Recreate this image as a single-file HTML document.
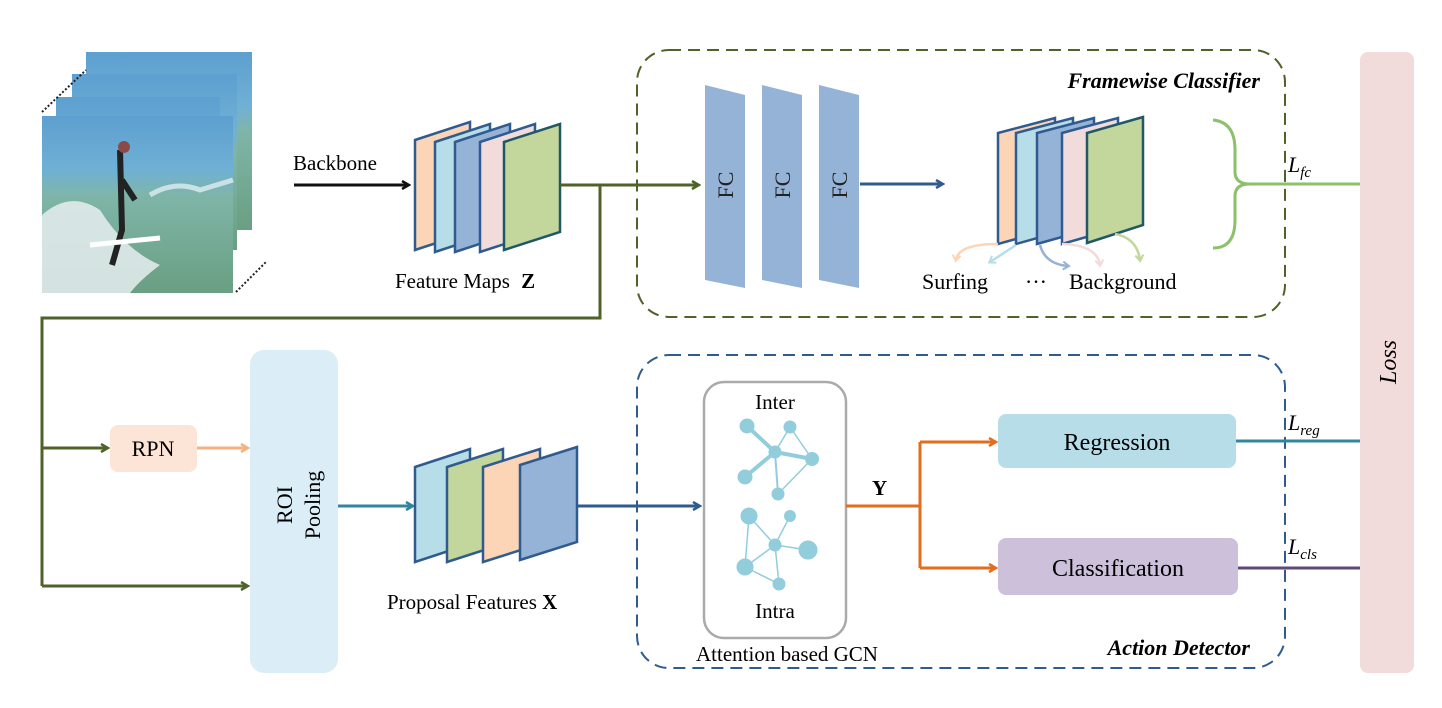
<!DOCTYPE html>
<html><head><meta charset="utf-8"><style>
html,body{margin:0;padding:0;background:#fff;}
svg{display:block;font-family:"Liberation Serif",serif;}
</style></head><body>
<svg width="1442" height="708" viewBox="0 0 1442 708" xmlns="http://www.w3.org/2000/svg">
<defs>
<marker id="ak" markerWidth="10" markerHeight="10" refX="8" refY="5" orient="auto" markerUnits="userSpaceOnUse"><path d="M1,1 L8,5 L1,9" fill="none" stroke="#111" stroke-width="2.5"/></marker>
<marker id="ag" markerWidth="10" markerHeight="10" refX="8" refY="5" orient="auto" markerUnits="userSpaceOnUse"><path d="M1,1 L8,5 L1,9" fill="none" stroke="#4f6228" stroke-width="2.5"/></marker>
<marker id="ab" markerWidth="10" markerHeight="10" refX="8" refY="5" orient="auto" markerUnits="userSpaceOnUse"><path d="M1,1 L8,5 L1,9" fill="none" stroke="#2f5b8f" stroke-width="2.5"/></marker>
<marker id="at" markerWidth="10" markerHeight="10" refX="8" refY="5" orient="auto" markerUnits="userSpaceOnUse"><path d="M1,1 L8,5 L1,9" fill="none" stroke="#31859c" stroke-width="2.5"/></marker>
<marker id="ao" markerWidth="10" markerHeight="10" refX="8" refY="5" orient="auto" markerUnits="userSpaceOnUse"><path d="M1,1 L8,5 L1,9" fill="none" stroke="#e46c1e" stroke-width="2.5"/></marker>
<marker id="ap" markerWidth="10" markerHeight="10" refX="8" refY="5" orient="auto" markerUnits="userSpaceOnUse"><path d="M1,1 L8,5 L1,9" fill="none" stroke="#f4b183" stroke-width="2.5"/></marker>
<marker id="s1" markerWidth="10" markerHeight="10" refX="6" refY="5" orient="auto" markerUnits="userSpaceOnUse"><path d="M1,1 L7,5 L1,9" fill="none" stroke="#fbd5b5" stroke-width="2"/></marker>
<marker id="s2" markerWidth="10" markerHeight="10" refX="6" refY="5" orient="auto" markerUnits="userSpaceOnUse"><path d="M1,1 L7,5 L1,9" fill="none" stroke="#b7dde8" stroke-width="2"/></marker>
<marker id="s3" markerWidth="10" markerHeight="10" refX="6" refY="5" orient="auto" markerUnits="userSpaceOnUse"><path d="M1,1 L7,5 L1,9" fill="none" stroke="#95b3d7" stroke-width="2"/></marker>
<marker id="s4" markerWidth="10" markerHeight="10" refX="6" refY="5" orient="auto" markerUnits="userSpaceOnUse"><path d="M1,1 L7,5 L1,9" fill="none" stroke="#f2dcdb" stroke-width="2"/></marker>
<marker id="s5" markerWidth="10" markerHeight="10" refX="6" refY="5" orient="auto" markerUnits="userSpaceOnUse"><path d="M1,1 L7,5 L1,9" fill="none" stroke="#c3d69b" stroke-width="2"/></marker>
<linearGradient id="sea" x1="0" y1="0" x2="0" y2="1">
<stop offset="0" stop-color="#5d9fcf"/><stop offset="0.3" stop-color="#6fb0d6"/><stop offset="0.45" stop-color="#7fb5a8"/><stop offset="1" stop-color="#6a9f82"/></linearGradient>
</defs>

<!-- video frames -->
<rect x="86" y="52" width="166" height="178" fill="url(#sea)"/>
<rect x="72" y="74" width="165" height="176" fill="url(#sea)"/>
<rect x="56" y="97" width="164" height="176" fill="url(#sea)"/>
<rect x="42" y="116" width="191" height="177" fill="url(#sea)"/>
<path d="M42,215 Q70,190 100,210 Q125,250 160,265 Q140,280 130,293 L42,293 Z" fill="#e6eef0" opacity="0.85"/>
<path d="M150,195 Q175,180 200,190 L233,180" stroke="#dfeef0" stroke-width="5" fill="none" opacity="0.8"/>
<path d="M120,150 L122,230 L112,265 M122,180 L135,200" stroke="#222" stroke-width="6" fill="none"/>
<circle cx="124" cy="147" r="6" fill="#8a4a4a"/>
<path d="M90,245 L160,238" stroke="#fff" stroke-width="5"/>
<g stroke="#222" stroke-width="2" stroke-dasharray="2,2">
<path d="M42,112 L86,70"/><path d="M236,292 L266,262"/>
</g>

<!-- backbone -->
<text x="293" y="170" font-size="21">Backbone</text>
<line x1="294" y1="185" x2="409" y2="185" stroke="#111" stroke-width="3" marker-end="url(#ak)"/>

<!-- feature maps Z -->
<g stroke="#2f5b8f" stroke-width="2.5">
<polygon points="415,140 470,122 470,232 415,250" fill="#fbd5b5"/>
<polygon points="435,142 490,124 490,234 435,252" fill="#b7dde8"/>
<polygon points="455,142 510,124 510,234 455,252" fill="#95b3d7"/>
<polygon points="480,142 535,124 535,234 480,252" fill="#f2dcdb"/>
<polygon points="504,142 560,124 560,232 504,250" fill="#c3d69b" stroke="#215868"/>
</g>
<text x="395" y="288" font-size="21">Feature Maps <tspan font-weight="bold" dx="6">Z</tspan></text>

<!-- green connectors -->
<g stroke="#4f6228" stroke-width="3" fill="none">
<line x1="560" y1="185" x2="699" y2="185" marker-end="url(#ag)"/>
<polyline points="600,185 600,318 42,318 42,586"/>
<line x1="42" y1="448" x2="108" y2="448" marker-end="url(#ag)"/>
<line x1="42" y1="586" x2="248" y2="586" marker-end="url(#ag)"/>
</g>

<!-- framewise classifier box -->
<rect x="637" y="50" width="648" height="267" rx="32" fill="none" stroke="#4f6228" stroke-width="2" stroke-dasharray="12,7"/>
<text x="1260" y="88" font-size="22" font-weight="bold" font-style="italic" text-anchor="end">Framewise Classifier</text>

<g fill="#95b3d7">
<polygon points="705,85 745,95 745,288 705,280"/>
<polygon points="762,85 802,95 802,288 762,280"/>
<polygon points="819,85 859,95 859,288 819,280"/>
</g>
<g font-size="22" fill="#222">
<text transform="translate(733,185) rotate(-90)" text-anchor="middle">FC</text>
<text transform="translate(790,185) rotate(-90)" text-anchor="middle">FC</text>
<text transform="translate(847,185) rotate(-90)" text-anchor="middle">FC</text>
</g>
<line x1="860" y1="184" x2="943" y2="184" stroke="#2f5b8f" stroke-width="3" marker-end="url(#ab)"/>

<g stroke="#2f5b8f" stroke-width="2.5">
<polygon points="998,133 1055,118 1055,228 998,244" fill="#fbd5b5"/>
<polygon points="1016,133 1073,118 1073,228 1016,244" fill="#b7dde8"/>
<polygon points="1037,133 1094,118 1094,228 1037,244" fill="#95b3d7"/>
<polygon points="1062,133 1118,118 1118,228 1062,244" fill="#f2dcdb"/>
<polygon points="1087,133 1143,117 1143,225 1087,243" fill="#c3d69b" stroke="#215868"/>
</g>
<g fill="none" stroke-width="2.5">
<path d="M998,244 Q958,244 956,260" stroke="#fbd5b5" marker-end="url(#s1)"/>
<path d="M1016,245 L990,262" stroke="#b7dde8" marker-end="url(#s2)"/>
<path d="M1040,245 Q1045,264 1068,266" stroke="#95b3d7" marker-end="url(#s3)"/>
<path d="M1062,244 Q1097,245 1100,265" stroke="#f2dcdb" marker-end="url(#s4)"/>
<path d="M1115,234 Q1137,238 1140,260" stroke="#c3d69b" marker-end="url(#s5)"/>
</g>
<text x="922" y="289" font-size="22">Surfing</text>
<text x="1025" y="289" font-size="22">···</text>
<text x="1069" y="289" font-size="22">Background</text>

<path d="M1213,120 Q1235,122 1235,150 L1235,172 Q1235,184 1250,184 Q1235,184 1235,196 L1235,220 Q1235,248 1213,248" fill="none" stroke="#8dc06a" stroke-width="3"/>
<line x1="1245" y1="184" x2="1360" y2="184" stroke="#8dc06a" stroke-width="3"/>
<text x="1288" y="172" font-size="22" font-style="italic">L<tspan font-size="15" dy="5">fc</tspan></text>

<!-- loss -->
<rect x="1360" y="52" width="54" height="621" rx="8" fill="#f2dcdb"/>
<text transform="translate(1396,362) rotate(-90)" font-size="24" font-style="italic" text-anchor="middle">Loss</text>

<!-- RPN / ROI -->
<rect x="110" y="425" width="87" height="47" rx="8" fill="#fce4d6"/>
<text x="153" y="456" font-size="22" text-anchor="middle">RPN</text>
<line x1="197" y1="448" x2="248" y2="448" stroke="#f4b183" stroke-width="3" marker-end="url(#ap)"/>
<rect x="250" y="350" width="88" height="323" rx="14" fill="#dbeef7"/>
<text transform="translate(292,505) rotate(-90)" font-size="22" text-anchor="middle">ROI</text>
<text transform="translate(320,505) rotate(-90)" font-size="22" text-anchor="middle">Pooling</text>
<line x1="338" y1="506" x2="413" y2="506" stroke="#31859c" stroke-width="3" marker-end="url(#at)"/>

<g stroke="#2f5b8f" stroke-width="2.5">
<polygon points="415,467 470,449 470,544 415,562" fill="#b7dde8"/>
<polygon points="447,467 503,449 503,544 447,562" fill="#c3d69b"/>
<polygon points="483,467 540,449 540,544 483,562" fill="#fbd5b5"/>
<polygon points="520,465 577,447 577,542 520,560" fill="#95b3d7"/>
</g>
<text x="387" y="609" font-size="21">Proposal Features <tspan font-weight="bold">X</tspan></text>
<line x1="577" y1="506" x2="700" y2="506" stroke="#2f5b8f" stroke-width="3" marker-end="url(#ab)"/>

<!-- action detector -->
<rect x="637" y="355" width="648" height="313" rx="32" fill="none" stroke="#2f5b8f" stroke-width="2" stroke-dasharray="12,7"/>
<text x="1250" y="655" font-size="22" font-weight="bold" font-style="italic" text-anchor="end">Action Detector</text>

<rect x="704" y="382" width="142" height="256" rx="20" fill="none" stroke="#aaa" stroke-width="2.5"/>
<text x="775" y="409" font-size="21" text-anchor="middle">Inter</text>
<text x="775" y="618" font-size="21" text-anchor="middle">Intra</text>
<text x="787" y="661" font-size="21" text-anchor="middle">Attention based GCN</text>
<g stroke="#92cddc" fill="#92cddc">
<line x1="747" y1="426" x2="775" y2="452" stroke-width="4"/>
<line x1="745" y1="477" x2="775" y2="452" stroke-width="4"/>
<line x1="775" y1="452" x2="812" y2="459" stroke-width="4"/>
<line x1="790" y1="427" x2="775" y2="452" stroke-width="1.5"/>
<line x1="790" y1="427" x2="812" y2="459" stroke-width="1.5"/>
<line x1="812" y1="459" x2="778" y2="494" stroke-width="1.5"/>
<line x1="775" y1="452" x2="778" y2="494" stroke-width="2"/>
<circle cx="747" cy="426" r="7"/><circle cx="790" cy="427" r="6"/><circle cx="775" cy="452" r="6"/>
<circle cx="812" cy="459" r="6.5"/><circle cx="745" cy="477" r="7"/><circle cx="778" cy="494" r="6"/>
<g stroke-width="1.5">
<line x1="749" y1="516" x2="775" y2="545"/><line x1="790" y1="516" x2="775" y2="545"/>
<line x1="775" y1="545" x2="808" y2="550"/><line x1="775" y1="545" x2="745" y2="567"/>
<line x1="749" y1="516" x2="745" y2="567"/><line x1="745" y1="567" x2="779" y2="584"/>
<line x1="775" y1="545" x2="779" y2="584"/>
</g>
<circle cx="749" cy="516" r="8"/><circle cx="790" cy="516" r="5.5"/><circle cx="775" cy="545" r="6"/>
<circle cx="808" cy="550" r="9"/><circle cx="745" cy="567" r="8"/><circle cx="779" cy="584" r="6"/>
</g>

<text x="872" y="495" font-size="21" font-weight="bold">Y</text>
<g stroke="#e46c1e" stroke-width="3" fill="none">
<line x1="846" y1="506" x2="920" y2="506"/>
<line x1="920" y1="442" x2="920" y2="568"/>
<line x1="920" y1="442" x2="996" y2="442" marker-end="url(#ao)"/>
<line x1="920" y1="568" x2="996" y2="568" marker-end="url(#ao)"/>
</g>
<rect x="998" y="414" width="238" height="54" rx="8" fill="#b7dde8"/>
<text x="1117" y="450" font-size="24" text-anchor="middle">Regression</text>
<rect x="998" y="538" width="240" height="57" rx="8" fill="#ccc0da"/>
<text x="1118" y="576" font-size="24" text-anchor="middle">Classification</text>
<line x1="1236" y1="441" x2="1360" y2="441" stroke="#31859c" stroke-width="3"/>
<line x1="1238" y1="568" x2="1360" y2="568" stroke="#5f497a" stroke-width="3"/>
<text x="1288" y="430" font-size="22" font-style="italic">L<tspan font-size="15" dy="5">reg</tspan></text>
<text x="1288" y="554" font-size="22" font-style="italic">L<tspan font-size="15" dy="5">cls</tspan></text>
</svg>
</body></html>
